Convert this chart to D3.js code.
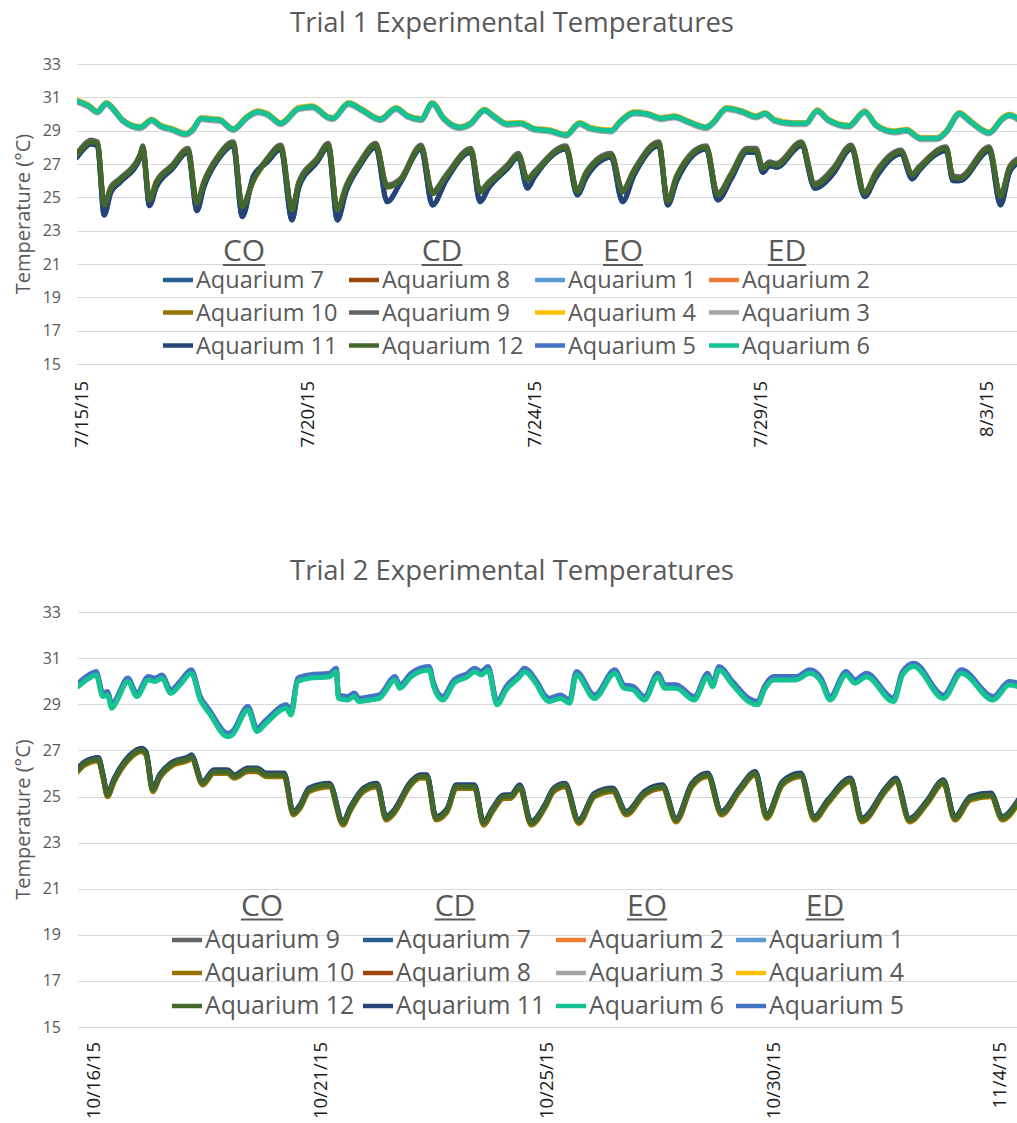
<!DOCTYPE html>
<html>
<head>
<meta charset="utf-8">
<script src="https://cdn.jsdelivr.net/npm/d3@7"></script>
<style>
  body { margin: 0; background: #fff; }
  svg { display: block; font-family: "Open Sans", sans-serif; }
</style>
</head>
<body>
<div id="chart-area"></div>
<script>
// y axis ticks shared by both trials
const yTicks = [15, 17, 19, 21, 23, 25, 27, 29, 31, 33];
const groups = ["CO", "CD", "EO", "ED"];

// category axis: one label every 100 readings
const trial1Ticks = ["7/15/15", "7/20/15", "7/24/15", "7/29/15", "8/3/15"];
const trial2Ticks = ["10/16/15", "10/21/15", "10/25/15", "10/30/15", "11/4/15"];
const tickIdx = [0, 100, 200, 300, 400];

// legend order (series order in the workbook)
const trial1Legend = [7, 8, 1, 2, 10, 9, 4, 3, 11, 12, 5, 6];
const trial2Legend = [9, 7, 2, 1, 10, 8, 3, 4, 12, 11, 6, 5];

// warm tanks 1-6: [reading, temp]
const trial1Warm = [[-2,30.78],[3,30.5],[7,30.14],[11,30.64],[15,30.14],[18,29.64],[26,29.2],[31,29.64],[35,29.28],[40,29.08],
  [46,28.8],[49,29.04],[53,29.74],[57,29.68],[61,29.64],[67,29.08],[73,29.8],[78,30.14],[82,30.0],[88,29.44],
  [96,30.34],[102,30.44],[109,29.8],[111,29.74],[118,30.64],[124,30.24],[132,29.68],[139,30.34],[144,29.88],[150,29.68],
  [155,30.64],[160,29.74],[167,29.2],[172,29.44],[178,30.24],[182,29.88],[188,29.4],[194,29.45],[200,29.1],[207,29.0],
  [214,28.74],[220,29.44],[225,29.14],[234,29.0],[238,29.54],[244,30.08],[250,30.0],[256,29.74],[262,29.84],[268,29.54],
  [276,29.2],[279,29.48],[285,30.34],[292,30.14],[298,29.84],[302,30.04],[306,29.64],[314,29.44],[320,29.44],[325,30.2],
  [330,29.64],[339,29.28],[346,30.14],[351,29.34],[359,28.94],[365,29.04],[367,28.84],[371,28.54],[378,28.54],[382,28.94],
  [388,30.04],[392,29.64],[401,28.88],[407,29.74],[410,29.94],[414,29.68]];

// ambient tanks 7-12: [reading, temp, temp of tanks 7 & 11 (deeper dips)]
const trial1Cold = [[-2,27.54,27.4],[1,28.04,27.9],[4,28.34,28.2],[7,28.24,28.1],[10,24.54,23.94],[13,25.54,25.3],[17,26.04,25.9],
  [26,27.54,27.4],[27,28.0,27.9],[30,24.84,24.5],[33,25.84,25.6],[40,26.84,26.7],[47,27.84,27.7],[51,24.64,24.2],[54,25.84,25.6],
  [60,27.34,27.2],[67,28.24,28.1],[71,24.44,23.84],[76,26.04,26.3],[82,27.24,27.1],[88,28.04,27.9],[93,24.24,23.64],[96,25.84,25.6],
  [104,27.24,27.1],[109,28.14,28.0],[113,24.24,23.64],[117,25.64,25.4],[123,27.04,26.9],[130,28.14,28.0],[135,25.64,24.74],
  [141,26.04,25.9],[150,28.04,27.9],[155,25.24,24.54],[161,26.24,26.0],[172,27.84,27.7],[176,25.34,24.74],[180,25.84,25.6],
  [188,26.84,26.7],[193,27.54,27.4],[197,26.04,25.54],[200,26.44,26.2],[214,28.0,27.9],[219,25.34,25.14],[223,26.44,26.2],
  [234,27.54,27.4],[239,25.34,24.74],[244,26.54,26.3],[255,28.24,28.1],[259,24.74,24.54],[263,26.24,26.0],[276,28.0,27.9],
  [281,25.14,24.84],[287,26.34,26.1],[294,27.84,27.7],[298,27.84,27.7],[301,26.74,26.5],[304,27.04,26.9],[307,26.94,26.8],
  [318,28.24,28.1],[324,25.74,25.54],[332,26.64,26.4],[340,28.04,27.9],[346,25.24,25.04],[351,26.44,26.2],[362,27.74,27.6],
  [367,26.34,26.1],[370,26.74,26.6],[382,27.94,27.8],[385,26.2,26.0],[388,26.14,26.0],[401,27.94,27.8],[406,25.04,24.54],
  [410,26.74,26.5],[414,27.24,27.1]];

const trial2Warm = [[-7,29.77],[-1,30.2],[1,30.28],[4,29.34],[6,29.41],[8,28.83],[10,29.12],[15,29.99],[19,29.34],[24,30.06],
  [27,29.99],[30,30.13],[34,29.48],[38,29.84],[43,30.35],[47,29.19],[51,28.61],[59,27.6],[61,27.67],[68,28.76],
  [72,27.82],[76,28.18],[85,28.83],[87,28.54],[90,29.99],[95,30.13],[104,30.2],[107,30.42],[108,29.26],[112,29.19],
  [115,29.34],[117,29.12],[122,29.19],[126,29.26],[133,30.06],[135,29.7],[140,30.2],[148,30.49],[150,29.77],[154,29.19],
  [159,29.92],[165,30.2],[168,30.42],[171,30.28],[174,30.49],[178,28.98],[182,29.63],[188,30.2],[190,30.42],[196,29.77],
  [199,29.26],[201,29.12],[206,29.26],[210,29.05],[213,30.28],[221,29.26],[230,30.35],[234,29.7],[238,29.63],[243,29.19],
  [249,30.2],[252,29.7],[257,29.7],[265,29.19],[271,30.2],[273,29.77],[276,30.49],[282,29.84],[289,29.12],[293,28.98],
  [296,29.63],[300,30.06],[310,30.06],[316,30.35],[321,29.99],[325,29.19],[332,30.28],[336,29.92],[341,30.2],[353,29.12],
  [357,30.28],[362,30.64],[375,29.26],[383,30.35],[397,29.19],[404,29.84],[408,29.77]];

const trial2Cold = [[-7,26.16],[-4,26.44],[2,26.62],[4,25.9],[6,25.07],[9,25.72],[16,26.73],[21,27.02],[23,26.88],[26,25.29],
  [29,25.87],[35,26.44],[42,26.66],[43,26.73],[48,25.58],[53,26.08],[59,26.08],[62,25.87],[68,26.16],[72,26.16],
  [76,25.94],[84,25.94],[88,24.28],[91,24.56],[95,25.29],[104,25.5],[110,23.84],[113,24.42],[119,25.29],[125,25.5],
  [129,24.06],[132,24.28],[140,25.58],[144,25.87],[147,25.87],[151,24.06],[156,24.42],[160,25.43],[168,25.43],[172,23.84],
  [176,24.42],[181,25.0],[184,25.0],[188,25.43],[193,23.84],[199,24.56],[203,25.29],[208,25.5],[214,23.91],[221,25.07],
  [229,25.29],[235,24.28],[243,25.14],[251,25.43],[257,23.98],[264,25.5],[271,25.94],[277,24.28],[285,25.29],[292,26.01],
  [297,24.13],[304,25.58],[312,25.94],[318,24.06],[324,24.78],[334,25.72],[339,23.98],[350,25.36],[354,25.72],[360,23.98],
  [368,24.78],[375,25.65],[380,24.06],[387,24.93],[396,25.07],[401,24.06],[408,24.78]];

// how far each tank (1..12) sits from its group trace, in °C
const trial1Offset = [0, 0.04, -0.08, 0.05, 0, 0, 0, 0.03, 0.1, -0.03, 0, 0];
const trial2Offset = [0.1, 0.08, 0.03, 0.08, 0.15, 0, 0.05, -0.03, 0.03, -0.08, 0.08, 0];
const deepTanks = [7, 11];

const colors = {
  1: "#5B9BD5", 2: "#ED7D31", 3: "#A5A5A5", 4: "#FFC000", 5: "#4472C4", 6: "#14C492",
  7: "#255E91", 8: "#9E480E", 9: "#636363", 10: "#997300", 11: "#264478", 12: "#43682B"
};
const drawOrder = [7, 8, 1, 2, 10, 9, 4, 3, 11, 12, 5, 6];

const svg = d3.select("#chart-area").append("svg")
  .attr("width", 1017)
  .attr("height", 1123);

function drawTrial(t) {
  const g = svg.append("g");
  const x = d3.scaleLinear().domain(t.xDomain).range([t.left, 1017]);
  const y = d3.scaleLinear().domain([15, 33]).range([t.bottom, t.top]);

  g.selectAll(".grid")
    .data(yTicks)
    .enter()
    .append("line")
    .attr("x1", t.left)
    .attr("x2", 1017)
    .attr("y1", d => Math.round(y(d)) + 0.5)
    .attr("y2", d => Math.round(y(d)) + 0.5)
    .attr("stroke", "#d9d9d9")
    .attr("stroke-width", 1);

  g.selectAll(".ylab")
    .data(yTicks)
    .enter()
    .append("text")
    .attr("x", 61)
    .attr("y", d => y(d) + 5.5)
    .attr("text-anchor", "end")
    .attr("font-size", 16)
    .attr("fill", "#595959")
    .text(d => d);

  g.selectAll(".xlab")
    .data(t.ticks)
    .enter()
    .append("text")
    .attr("transform", (d, i) => `translate(${x(tickIdx[i])},${t.xLabelTop}) rotate(-90)`)
    .attr("dy", "0.35em")
    .attr("text-anchor", "end")
    .attr("font-size", 18.5)
    .attr("fill", "#1a1a1a")
    .text(d => d);

  g.append("text")
    .attr("transform", `translate(23,${(t.top + t.bottom) / 2}) rotate(-90)`)
    .attr("dy", "0.35em")
    .attr("text-anchor", "middle")
    .attr("font-size", 20)
    .attr("fill", "#595959")
    .text("Temperature (°C)");

  g.append("text")
    .attr("x", 512)
    .attr("y", t.titleY)
    .attr("text-anchor", "middle")
    .attr("font-size", 27.5)
    .attr("fill", "#595959")
    .text(t.title);

  const clipId = "clip" + t.id;
  svg.append("clipPath").attr("id", clipId)
    .append("rect")
    .attr("x", t.left).attr("y", 0)
    .attr("width", 1017 - t.left).attr("height", 1123);

  const line = d3.line()
    .curve(d3.curveMonotoneX)
    .x(d => x(d[0]))
    .y(d => y(d[1]));

  const series = drawOrder.map(n => {
    const src = n <= 6 ? t.warm : t.cold;
    const off = t.offset[n - 1];
    const useDeep = t.deep && deepTanks.includes(n);
    return { n, values: src.map(d => [d[0], (useDeep ? d[2] : d[1]) + off]) };
  });

  g.append("g")
    .attr("clip-path", `url(#${clipId})`)
    .selectAll(".series")
    .data(series)
    .enter()
    .append("path")
    .attr("class", "series")
    .attr("d", d => line(d.values))
    .attr("fill", "none")
    .attr("stroke", d => colors[d.n])
    .attr("stroke-width", 5)
    .attr("stroke-linejoin", "round")
    .attr("stroke-linecap", "round");

  // treatment labels
  groups.forEach((lab, i) => {
    const txt = g.append("text")
      .attr("x", t.groupX[i])
      .attr("y", t.groupY)
      .attr("text-anchor", "middle")
      .attr("font-size", 30)
      .attr("fill", "#595959")
      .text(lab);
    const w = txt.node().getComputedTextLength();
    g.append("line")
      .attr("x1", t.groupX[i] - w / 2)
      .attr("x2", t.groupX[i] + w / 2)
      .attr("y1", t.groupY + 4)
      .attr("y2", t.groupY + 4)
      .attr("stroke", "#595959")
      .attr("stroke-width", 2);
  });

  // legend, 4 columns
  const leg = g.selectAll(".leg")
    .data(t.legend)
    .enter()
    .append("g")
    .attr("transform", (d, i) => `translate(${t.legendX[i % 4]},${t.legendY[Math.floor(i / 4)]})`);
  leg.append("line")
    .attr("x1", 0).attr("x2", 30)
    .attr("y1", -8).attr("y2", -8)
    .attr("stroke", d => colors[d])
    .attr("stroke-width", 4.5);
  leg.append("text")
    .attr("x", 33)
    .attr("font-size", t.legendFont)
    .attr("fill", "#595959")
    .text(d => "Aquarium " + d);
}

drawTrial({
  id: 1, title: "Trial 1 Experimental Temperatures", titleY: 31.5,
  ticks: trial1Ticks, xDomain: [-2, 413.3], left: 77, top: 64, bottom: 364, xLabelTop: 381,
  warm: trial1Warm, cold: trial1Cold, offset: trial1Offset, deep: true,
  groupX: [244, 442, 623, 787], groupY: 261,
  legend: trial1Legend, legendX: [163, 349, 535, 709], legendY: [288, 320.5, 353.5], legendFont: 23.5
});

drawTrial({
  id: 2, title: "Trial 2 Experimental Temperatures", titleY: 580,
  ticks: trial2Ticks, xDomain: [-7, 407.5], left: 78, top: 612.2, bottom: 1027, xLabelTop: 1042,
  warm: trial2Warm, cold: trial2Cold, offset: trial2Offset, deep: false,
  groupX: [262, 455, 647, 825], groupY: 915.5,
  legend: trial2Legend, legendX: [172, 363, 556, 736], legendY: [948, 981, 1014], legendFont: 24.8
});
</script>
</body>
</html>
